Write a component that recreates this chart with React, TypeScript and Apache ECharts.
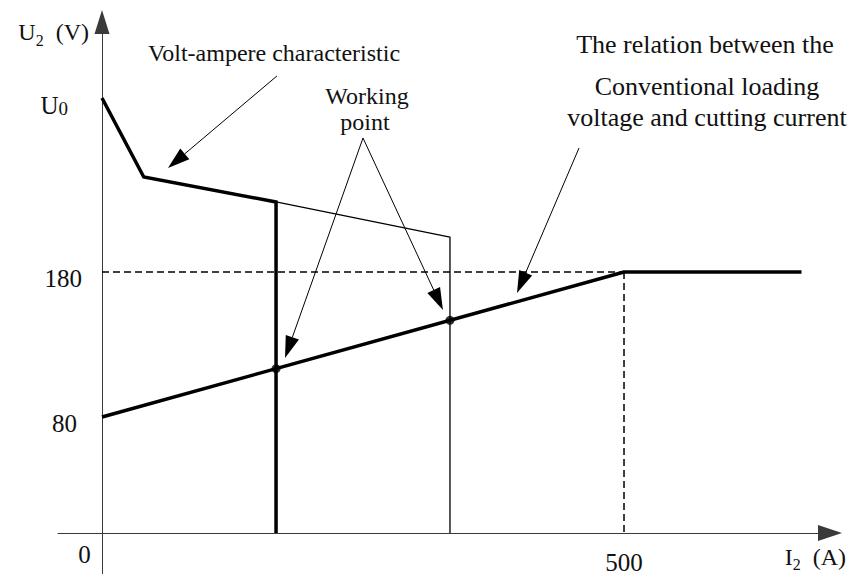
import React, { useEffect, useRef } from 'react';
import * as echarts from 'echarts';

const FONT = 'Liberation Serif';

// Axis domains (value units)
const X_MIN = -42.15;
const X_MAX = 697.3;
const Y_MIN = -28.28;
const Y_MAX = 352.4;

// Volt-ampere characteristic (thick part and thin continuation)
const voltAmpere: number[][] = [[0, 300], [40, 245.5], [166.7, 228.3], [166.7, 0]];
const voltAmpereExt: number[][] = [[166.7, 228.3], [333.3, 204.1], [333.3, 0]];
// Conventional loading voltage vs cutting current
const loadLine: number[][] = [[0, 80], [500, 180], [670, 180]];
// Dashed guide lines
const guideH: number[][] = [[0, 180], [500, 180]];
const guideV: number[][] = [[500, 180], [500, 0]];
// Working points
const workingPoints: number[][] = [[166.7, 113.3], [333.3, 146.7]];
// Tick labels
const yTickValues = [80, 180, 300];
const yTickLabels: Record<number, string> = { 80: '{b|80}', 180: '{a|180}', 300: '{u|U}{z|0}' };
const xTickValues = [500];
// Annotation arrows: [fromX, fromY, toX, toY]
const arrows: number[][] = [
  [167.6, 315.2, 63.2, 251.7],
  [250.0, 272.4, 175.3, 120.7],
  [250.0, 272.4, 326.6, 153.8],
  [456.9, 265.5, 397.5, 165.5],
];

export default function App() {
  const ref = useRef<HTMLDivElement>(null);
  useEffect(() => {
    if (!ref.current) return;
    const chart = echarts.init(ref.current, null, { renderer: 'svg' });
    const axisColor = '#3a3a3a';
    const subRich = {
      m: { fontFamily: FONT, fontSize: 24, color: '#111', lineHeight: 30, verticalAlign: 'bottom', padding: [0, 0, 4, 0] },
      s: { fontFamily: FONT, fontSize: 16, color: '#111', lineHeight: 30, verticalAlign: 'bottom' },
    };
    const txt = (text: string, x: number, y: number, size: number, align = 'center') => ({
      type: 'text',
      x,
      y,
      style: { text, fontFamily: FONT, fontSize: size, fill: '#111', align, verticalAlign: 'middle' },
    });
    chart.setOption({
      animation: false,
      backgroundColor: '#fff',
      grid: { left: 58, right: 23, top: 22, bottom: 0, outerBoundsMode: 'none', containLabel: false },
      xAxis: {
        type: 'value',
        min: X_MIN,
        max: X_MAX,
        splitLine: { show: false },
        axisTick: { show: false },
        axisLine: {
          onZero: true,
          lineStyle: { color: axisColor, width: 1 },
          symbol: ['none', 'triangle'],
          symbolSize: [16, 24],
        },
        axisLabel: {
          customValues: xTickValues,
          fontFamily: FONT,
          fontSize: 25,
          color: '#111',
          margin: -12,
          verticalAlign: 'middle',
          formatter: (v: number) => String(v),
        },
        name: '{m|I}{s|2}{m|  (A)}',
        nameLocation: 'end',
        nameGap: 16,
        nameTextStyle: {
          align: 'right',
          verticalAlign: 'top',
          padding: [10, 0, 0, 0],
          rich: subRich,
        },
      },
      yAxis: {
        type: 'value',
        min: Y_MIN,
        max: Y_MAX,
        splitLine: { show: false },
        axisTick: { show: false },
        axisLine: {
          onZero: true,
          lineStyle: { color: axisColor, width: 1 },
          symbol: ['none', 'triangle'],
          symbolSize: [15, 24],
        },
        axisLabel: {
          customValues: yTickValues,
          fontFamily: FONT,
          fontSize: 25,
          color: '#111',
          align: 'right',
          margin: -24,
          padding: [14, 0, 0, 0],
          formatter: (v: number) => yTickLabels[v] ?? String(v),
          rich: {
            a: { fontFamily: FONT, fontSize: 25, color: '#111' },
            b: { fontFamily: FONT, fontSize: 25, color: '#111', padding: [0, 5, 0, 0] },
            u: { fontFamily: FONT, fontSize: 25, color: '#111', lineHeight: 26, verticalAlign: 'bottom' },
            z: { fontFamily: FONT, fontSize: 19, color: '#111', lineHeight: 22, verticalAlign: 'bottom', padding: [0, 14, 0, 0] },
          },
        },
        name: '{m|U}{s|2}{m|  (V)}',
        nameLocation: 'end',
        nameGap: -11,
        nameTextStyle: {
          align: 'right',
          verticalAlign: 'middle',
          padding: [0, 13, 0, 0],
          rich: subRich,
        },
      },
      series: [
        {
          type: 'line', data: guideH, symbol: 'none', silent: true,
          lineStyle: { color: '#000', width: 1.5, type: [7, 4] }, z: 1,
        },
        {
          type: 'line', data: guideV, symbol: 'none', silent: true,
          lineStyle: { color: '#000', width: 1.5, type: [7, 4] }, z: 1,
        },
        {
          type: 'line', data: voltAmpereExt, symbol: 'none',
          lineStyle: { color: '#000', width: 1.3 }, z: 2,
        },
        {
          type: 'line', data: voltAmpere, symbol: 'none',
          lineStyle: { color: '#000', width: 3.5, join: 'miter' }, z: 3,
        },
        {
          type: 'line', data: loadLine, symbol: 'none',
          lineStyle: { color: '#000', width: 3.5 }, z: 3,
        },
        {
          type: 'scatter', data: workingPoints, symbol: 'circle', symbolSize: 9,
          itemStyle: { color: '#000' }, z: 4,
        },
        {
          type: 'custom',
          data: arrows,
          encode: { x: [0, 2], y: [1, 3] },
          clip: false,
          z: 5,
          renderItem: (params: any, api: any) => {
            const p1 = api.coord([api.value(0), api.value(1)]);
            const p2 = api.coord([api.value(2), api.value(3)]);
            const dx = p2[0] - p1[0];
            const dy = p2[1] - p1[1];
            const len = Math.hypot(dx, dy);
            const ux = dx / len;
            const uy = dy / len;
            const L = 22;
            const W = 7;
            const bx = p2[0] - ux * L;
            const by = p2[1] - uy * L;
            return {
              type: 'group',
              children: [
                {
                  type: 'line',
                  shape: { x1: p1[0], y1: p1[1], x2: bx, y2: by },
                  style: { stroke: '#000', lineWidth: 1 },
                },
                {
                  type: 'polygon',
                  shape: { points: [[p2[0], p2[1]], [bx - uy * W, by + ux * W], [bx + uy * W, by - ux * W]] },
                  style: { fill: '#000' },
                },
              ],
            };
          },
        },
      ],
      graphic: [
        txt('0', 84.5, 554, 25),
        txt('Volt-ampere characteristic', 148, 52.5, 24, 'left'),
        txt('Working', 367, 96, 24),
        txt('point', 365, 122, 24),
        txt('The relation between the', 705, 44, 26),
        txt('Conventional loading', 707, 86, 26),
        txt('voltage and cutting current', 707, 117, 26),
      ],
    });
    return () => chart.dispose();
  }, []);
  return (
    <div
      ref={ref}
      style={{ position: 'fixed', left: 0, top: 0, width: 853, height: 574, background: '#fff' }}
    />
  );
}
